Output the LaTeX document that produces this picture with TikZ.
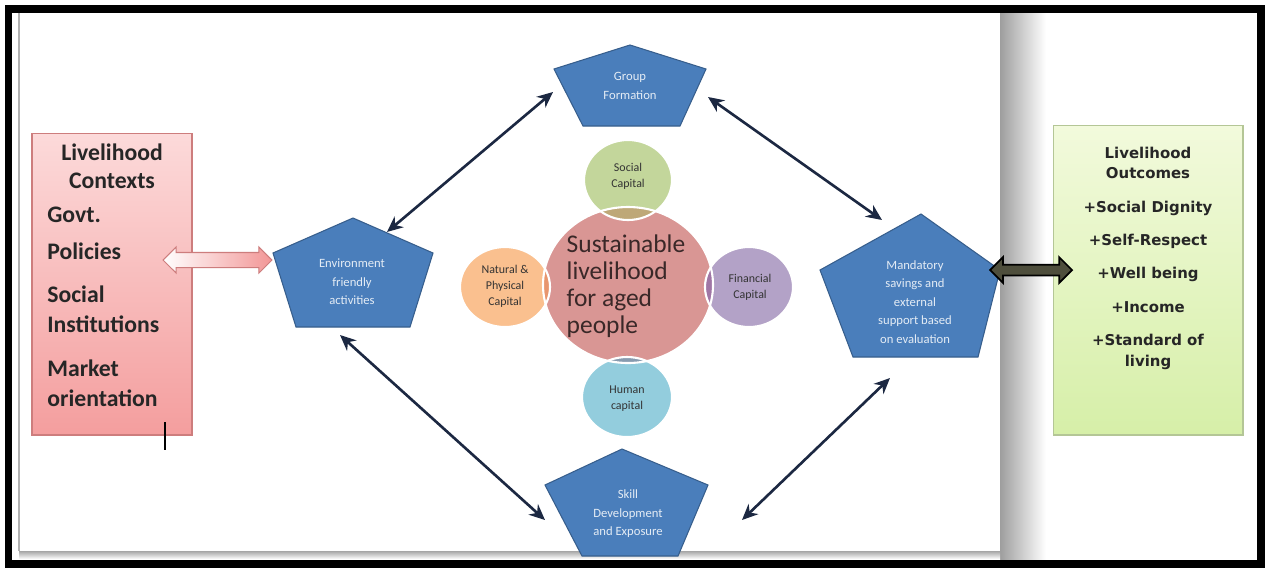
\documentclass[tikz,border=0pt]{standalone}
\usepackage{fontspec}
\setmainfont{Carlito}
\newfontfamily\outfont{DejaVu Sans}
\usetikzlibrary{arrows.meta,shapes.arrows}

\definecolor{pentblue}{RGB}{74,126,187}
\definecolor{linkblue}{RGB}{28,40,66}
\definecolor{cenpink}{RGB}{217,150,148}
\definecolor{centext}{RGB}{58,40,40}
\definecolor{socgreen}{RGB}{195,214,155}
\definecolor{natorange}{RGB}{250,192,143}
\definecolor{finpurple}{RGB}{179,162,199}
\definecolor{humblue}{RGB}{147,205,221}
\definecolor{soclens}{RGB}{190,168,120}
\definecolor{natlens}{RGB}{232,150,110}
\definecolor{finlens}{RGB}{160,118,165}
\definecolor{humlens}{RGB}{135,155,175}
\definecolor{ctxtop}{RGB}{252,218,218}
\definecolor{ctxbot}{RGB}{244,158,158}
\definecolor{ctxedge}{RGB}{205,125,125}
\definecolor{outtop}{RGB}{242,250,220}
\definecolor{outbot}{RGB}{214,239,168}
\definecolor{outedge}{RGB}{180,198,150}
\definecolor{pinkarrow}{RGB}{242,150,150}
\definecolor{olivearrow}{RGB}{78,78,60}

\tikzset{
  pent/.style={fill=pentblue, draw=pentblue!75!black, line width=0.6pt},
  pentxt/.style={text=white!85!pentblue, align=center, inner sep=0pt,
    font=\fontsize{7.2}{10.5}\selectfont},
  captxt/.style={text=black!80, align=center, inner sep=0pt,
    font=\fontsize{6.8}{9}\selectfont},
  centxt/.style={text=centext, align=left, inner sep=0pt,
    font=\fontsize{14.5}{15.3}\selectfont},
  ctxbox/.style={draw=ctxedge, top color=ctxtop, bottom color=ctxbot,
    inner sep=0pt, line width=0.6pt},
  outbox/.style={draw=outedge, top color=outtop, bottom color=outbot,
    inner sep=0pt, line width=0.6pt},
  ctxtxt/.style={text=black!85, inner sep=0pt,
    font=\bfseries\fontsize{13.5}{16}\selectfont},
  outtxt/.style={text=black!85, inner sep=0pt,
    font=\outfont\bfseries\fontsize{8.5}{10}\selectfont},
  link/.style={draw=linkblue, line width=1.5pt,
    {Stealth[length=9pt,width=8pt]}-{Stealth[length=9pt,width=8pt]}},
}

\begin{document}
\begin{tikzpicture}[x=0.02cm,y=-0.02cm]
\useasboundingbox (0,0) rectangle (1267,569);
\fill[white] (0,0) rectangle (1267,569);
% slide edge and its shadow
\shade[left color=black!38, right color=white] (1000,13) rectangle (1046,559);
\shade[top color=black!35, bottom color=white] (19,551) rectangle (1000,559);
\draw[black!30, line width=1pt] (19,13) -- (19,551);
% outer frame
\draw[line width=4.5pt] (8.5,9) rectangle (1261,564);

% livelihood contexts
\node[ctxbox, minimum width=3.2cm, minimum height=6.04cm] (ctx) at (112,284) {};
\node[ctxtxt, anchor=base] (ctxT1) at (112,160) {Livelihood};
\node[ctxtxt, anchor=base] (ctxT2) at (112,188) {Contexts};
\node[ctxtxt, anchor=base west] (ctxA1) at (47,222) {Govt.};
\node[ctxtxt, anchor=base west] (ctxA2) at (47,259) {Policies};
\node[ctxtxt, anchor=base west] (ctxB1) at (47,302) {Social};
\node[ctxtxt, anchor=base west] (ctxB2) at (47,332) {Institutions};
\node[ctxtxt, anchor=base west] (ctxC1) at (47,376) {Market};
\node[ctxtxt, anchor=base west] (ctxC2) at (47,406) {orientation};
\draw[line width=0.8pt] (165,422) -- (165,450);

% livelihood outcomes
\node[outbox, minimum width=3.8cm, minimum height=6.2cm] (out) at (1148,280) {};
\node[outtxt, anchor=base] (outT1) at (1148,158) {Livelihood};
\node[outtxt, anchor=base] (outT2) at (1148,178) {Outcomes};
\node[outtxt, anchor=base] (out1) at (1148,212) {+Social Dignity};
\node[outtxt, anchor=base] (out2) at (1148,245) {+Self-Respect};
\node[outtxt, anchor=base] (out3) at (1148,278) {+Well being};
\node[outtxt, anchor=base] (out4) at (1148,312) {+Income};
\node[outtxt, anchor=base] (out5) at (1148,345) {+Standard of};
\node[outtxt, anchor=base] (out6) at (1148,366) {living};

% pentagons
\draw[pent] (630,45) -- (706,69) -- (680,126) -- (583,126) -- (554,69) -- cycle;
\node[pentxt] (gf) at (630,86) {Group\\Formation};
\draw[pent] (353,218) -- (433,253) -- (410,327) -- (296,327) -- (273,253) -- cycle;
\node[pentxt] (ef) at (352,282) {Environment\\friendly\\activities};
\draw[pent] (921,214) -- (1000,270) -- (978,357) -- (853,357) -- (820,270) -- cycle;
\node[pentxt] (ms) at (915,302) {Mandatory\\savings and\\external\\support based\\on evaluation};
\draw[pent] (622,449) -- (708,485) -- (678,556) -- (582,556) -- (545,485) -- cycle;
\node[pentxt] (sd) at (628,514) {Skill\\Development\\and Exposure};

% arrow ends on the pentagon edges
\coordinate (gfSW) at (553,92);
\coordinate (gfSE) at (708,97);
\coordinate (efNE) at (387,232);
\coordinate (efS) at (340,335);
\coordinate (msNW) at (882,220);
\coordinate (msSW) at (890,378);
\coordinate (sdW) at (545,520);
\coordinate (sdE) at (742,520);
\draw[link] (efNE) -- (gfSW);
\draw[link] (gfSE) -- (msNW);
\draw[link] (efS) -- (sdW);
\draw[link] (sdE) -- (msSW);

% capitals
\fill[cenpink] (628,285) ellipse [x radius=85, y radius=78];
\fill[socgreen] (628,180) ellipse [x radius=44, y radius=40];
\fill[natorange] (505,287) ellipse [x radius=45, y radius=40];
\fill[finpurple] (749,287) ellipse [x radius=44, y radius=40];
\fill[humblue] (627,397) ellipse [x radius=45, y radius=40];
\begin{scope}
  \clip (628,285) ellipse [x radius=85, y radius=78];
  \fill[soclens] (628,180) ellipse [x radius=44, y radius=40];
  \fill[natlens] (505,287) ellipse [x radius=45, y radius=40];
  \fill[finlens] (749,287) ellipse [x radius=44, y radius=40];
  \fill[humlens] (627,397) ellipse [x radius=45, y radius=40];
\end{scope}
\draw[white, line width=1.2pt] (628,285) ellipse [x radius=85, y radius=78];
\draw[white, line width=1.2pt] (628,180) ellipse [x radius=44, y radius=40];
\draw[white, line width=1.2pt] (505,287) ellipse [x radius=45, y radius=40];
\draw[white, line width=1.2pt] (749,287) ellipse [x radius=44, y radius=40];
\draw[white, line width=1.2pt] (627,397) ellipse [x radius=45, y radius=40];
\node[captxt] (soc) at (628,176) {Social\\Capital};
\node[captxt] (nat) at (505,286) {Natural \&\\Physical\\Capital};
\node[captxt] (fin) at (750,287) {Financial\\Capital};
\node[captxt] (hum) at (627,399) {Human\\capital};
\node[centxt] (sus) at (626,286) {Sustainable\\livelihood\\for aged\\people};

% block arrows to the side boxes
\node[double arrow, draw=ctxedge, left color=white, right color=pinkarrow,
  minimum height=2.18cm, minimum width=0.5cm, inner sep=0.14cm,
  double arrow head extend=0.11cm, line width=0.6pt] (ctxlink) at (217.5,260) {};
\node[double arrow, draw=black, fill=olivearrow,
  minimum height=1.64cm, minimum width=0.48cm, inner sep=0.09cm,
  double arrow head extend=0.15cm, line width=1pt] (outlink) at (1031,270) {};
\end{tikzpicture}
\end{document}
